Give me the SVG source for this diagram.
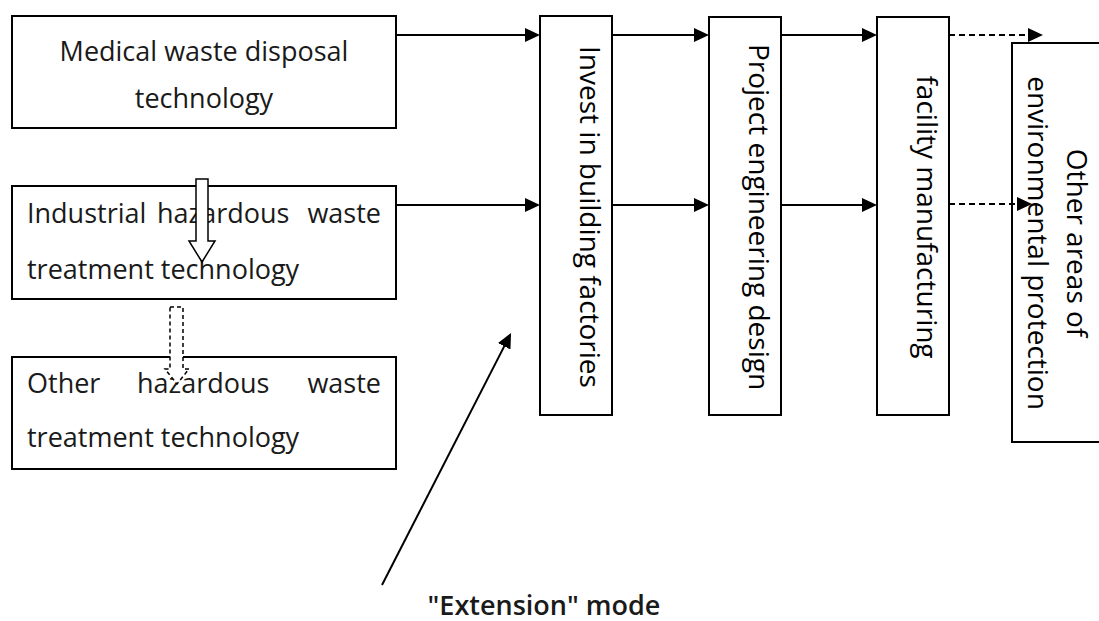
<svg xmlns="http://www.w3.org/2000/svg" width="1099" height="621" viewBox="0 0 1099 621">
<defs>
<style>
.box{fill:#fff;stroke:#000;stroke-width:2}
.lt{font-family:"Open Sans","Noto Sans","DejaVu Sans",sans-serif;font-size:27px;fill:#1a1a1a}
.vt{font-family:"Open Sans","Noto Sans","DejaVu Sans",sans-serif;font-size:28px;fill:#000;text-anchor:middle}
.ln{stroke:#000;stroke-width:2;fill:none}
.dash{stroke-dasharray:6 4}
</style>
<marker id="ah" markerUnits="userSpaceOnUse" markerWidth="15" markerHeight="14" refX="7" refY="7" orient="auto">
<path d="M0,0 L15,7 L0,14 z" fill="#000"/>
</marker>
</defs>
<rect width="1099" height="621" fill="#fff"/>

<g id="node-medical">
<rect class="box" x="12" y="16" width="384" height="112"/>
<text class="lt" x="204" y="61" text-anchor="middle">Medical waste disposal</text>
<text class="lt" x="204" y="108" text-anchor="middle">technology</text>
</g>

<g id="node-industrial">
<rect class="box" x="12" y="186" width="384" height="113"/>
<text class="lt" x="27" y="223">Industrial</text>
<text class="lt" x="157" y="223">hazardous</text>
<text class="lt" x="381" y="223" text-anchor="end">waste</text>
<text class="lt" x="27" y="279">treatment technology</text>
</g>

<g id="node-other">
<rect class="box" x="12" y="357" width="384" height="112"/>
<text class="lt" x="27" y="393">Other</text>
<text class="lt" x="137" y="393">hazardous</text>
<text class="lt" x="381" y="393" text-anchor="end">waste</text>
<text class="lt" x="27" y="447">treatment technology</text>
</g>

<g id="node-invest">
<rect class="box" x="540" y="16" width="72" height="399"/>
<text class="vt" transform="translate(580,217) rotate(90)">Invest in building factories</text>
</g>

<g id="node-design">
<rect class="box" x="709" y="17" width="72" height="398"/>
<text class="vt" transform="translate(749,217) rotate(90)">Project engineering design</text>
</g>

<g id="node-facility">
<rect class="box" x="877" y="17" width="72" height="398"/>
<text class="vt" transform="translate(917,217) rotate(90)">facility manufacturing</text>
</g>

<g id="node-environment">
<path class="ln" d="M1100,43 H1012 V442 H1100"/>
<text class="vt" transform="translate(1067,243) rotate(90)">Other areas of</text>
<text class="vt" transform="translate(1028,243) rotate(90)">environmental protection</text>
</g>

<g id="connectors">
<line class="ln" x1="396" y1="35" x2="532" y2="35" marker-end="url(#ah)"/>
<line class="ln" x1="396" y1="205" x2="532" y2="205" marker-end="url(#ah)"/>
<line class="ln" x1="612" y1="35" x2="701" y2="35" marker-end="url(#ah)"/>
<line class="ln" x1="612" y1="205" x2="701" y2="205" marker-end="url(#ah)"/>
<line class="ln" x1="781" y1="35" x2="869" y2="35" marker-end="url(#ah)"/>
<line class="ln" x1="781" y1="205" x2="869" y2="205" marker-end="url(#ah)"/>
<line class="ln dash" x1="949" y1="35" x2="1035" y2="35" marker-end="url(#ah)"/>
<line class="ln dash" x1="949" y1="204" x2="1024" y2="204" marker-end="url(#ah)"/>
<line class="ln" x1="382" y1="585" x2="507.4" y2="340.1" marker-end="url(#ah)"/>
<polygon points="196,179 208,179 208,241 215,241 202,262 189,241 196,241" fill="#fff" stroke="#000" stroke-width="1.5"/>
<polygon points="170,307 183,307 183,369 189,369 177,384 165,369 170,369" fill="#fff" stroke="#000" stroke-width="1.5" stroke-dasharray="4 3"/>
</g>

<text id="label-extension" x="544" y="615" text-anchor="middle" font-family="'Open Sans','Noto Sans','DejaVu Sans',sans-serif" font-size="27" font-weight="600" fill="#1a1a1a">"Extension" mode</text>
</svg>
